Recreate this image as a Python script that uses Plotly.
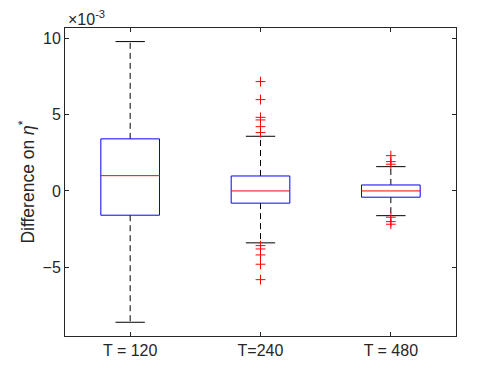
import plotly.graph_objects as go

# Box statistics (values in units of 1e-3)
labels = ["T = 120", "T=240", "T = 480"]
q1 = [-1.59, -0.80, -0.41]
median = [1.00, 0.00, 0.00]
q3 = [3.41, 0.98, 0.39]
whisker_lo = [-8.60, -3.40, -1.62]
whisker_hi = [9.78, 3.58, 1.59]
outliers = [
    [],
    [7.16, 5.98, 4.82, 4.65, 4.21, 3.82, -3.58, -3.80, -4.19, -4.80, -5.81],
    [2.31, 1.92, 1.75, -1.72, -2.01, -2.18],
]

_AXIS = "#262626"
_FONT = "Liberation Sans, Arial, Helvetica, sans-serif"
HALF_BOX = 0.225
HALF_CAP = 0.1125

fig = go.Figure()

for i, lab in enumerate(labels):
    x = i + 1
    # whiskers (dashed)
    for a, b in ((q3[i], whisker_hi[i]), (q1[i], whisker_lo[i])):
        fig.add_trace(go.Scatter(x=[x, x], y=[a, b], mode="lines",
                                 line=dict(color="#000000", width=1, dash="6px,4px"),
                                 showlegend=False, hoverinfo="skip"))
    # caps
    for v in (whisker_hi[i], whisker_lo[i]):
        fig.add_trace(go.Scatter(x=[x - HALF_CAP, x + HALF_CAP], y=[v, v], mode="lines",
                                 line=dict(color="#000000", width=1),
                                 showlegend=False, hoverinfo="skip"))
    # box
    fig.add_trace(go.Scatter(
        x=[x - HALF_BOX, x + HALF_BOX, x + HALF_BOX, x - HALF_BOX, x - HALF_BOX],
        y=[q1[i], q1[i], q3[i], q3[i], q1[i]], mode="lines",
        line=dict(color="#0000ff", width=1), showlegend=False, hoverinfo="skip"))
    # median
    fig.add_trace(go.Scatter(x=[x - HALF_BOX, x + HALF_BOX], y=[median[i], median[i]],
                             mode="lines", line=dict(color="#ff0000", width=1),
                             showlegend=False, hoverinfo="skip"))
    # outliers
    if outliers[i]:
        fig.add_trace(go.Scatter(x=[x] * len(outliers[i]), y=outliers[i], mode="markers",
                                 marker=dict(symbol="cross-thin", size=7,
                                             line=dict(color="#ff0000", width=1)),
                                 showlegend=False))

axis_common = dict(showline=True, linecolor=_AXIS, linewidth=1, mirror="ticks",
                   ticks="inside", ticklen=4, tickcolor=_AXIS, showgrid=False,
                   zeroline=False, tickfont=dict(color=_AXIS, size=16))

fig.update_layout(
    width=504, height=378,
    margin=dict(l=65, r=48, t=28, b=42),
    paper_bgcolor="white", plot_bgcolor="white",
    font=dict(family=_FONT, color=_AXIS, size=16),
    xaxis=dict(range=[0.5, 3.5], tickvals=[1, 2, 3], ticktext=labels, **axis_common),
    yaxis=dict(range=[-9.5, 10.67], tickvals=[-5, 0, 5, 10],
               title=dict(text="Difference on <i>η</i><sup>*</sup>", standoff=3,
                          font=dict(size=17.5, color=_AXIS)),
               **axis_common),
    annotations=[dict(text="×10<sup>-3</sup>", xref="paper", yref="paper", x=0, y=1,
                      xanchor="left", yanchor="bottom", showarrow=False,
                      font=dict(size=16, color=_AXIS), xshift=1, yshift=-2)],
)

# drop the browser's default body margin so the figure sits at the page origin
fig.write_html("out.html", config={"displayModeBar": False},
               post_script="document.body.style.margin='0';")
